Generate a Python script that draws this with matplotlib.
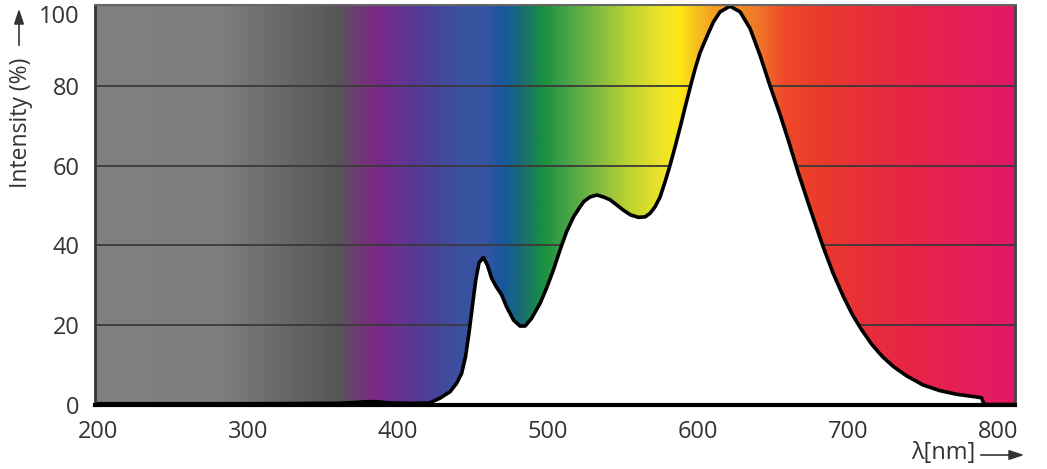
import numpy as np
import matplotlib
matplotlib.use("Agg")
import matplotlib.pyplot as plt
from matplotlib.colors import to_rgb
from matplotlib.patches import FancyArrowPatch
import matplotlib.transforms as mtransforms

plt.rcParams['font.family'] = ['Open Sans', 'DejaVu Sans']

# ---- data ----
wavelength = [198, 300, 360, 372, 378, 386, 394, 410, 421, 428, 434.7, 439, 442.4,
              445, 447.3, 449.5, 451.8, 454, 456.9, 459.6, 462.4, 465.8, 469.1,
              472.4, 477, 481.3, 484.7, 489, 494.7, 499, 503.5, 508, 512.4, 517,
              521.3, 524, 528, 532.5, 537, 541.3, 545.8, 550.2, 555, 560.2, 564.7,
              568, 571.3, 574.7, 578, 581.3, 584.7, 588, 591.3, 595, 598, 601.3,
              605.8, 610.2, 614.7, 621.3, 628, 634.7, 641.3, 648, 654.7, 661.3,
              667, 674.7, 683, 690, 697, 703, 709, 716, 723, 730, 739, 750, 761, 772,
              783.5, 789, 790.7, 811.3]
intensity = [0.2, 0.2, 0.3, 0.5, 0.7, 0.7, 0.4, 0.3, 0.4, 1.6, 3.2, 5.3, 7.8,
             12.0, 17.9, 24.5, 31.2, 35.6, 36.9, 35.0, 31.7, 29.4, 27.5,
             24.5, 21.2, 19.7, 19.7, 21.6, 25.4, 29.2, 33.7, 38.8, 43.4, 47.1,
             49.6, 51.0, 52.1, 52.6, 52.1, 51.4, 50.1, 48.8, 47.6, 47.0, 47.1,
             48.0, 49.6, 52.1, 55.9, 60.0, 64.7, 69.5, 74.5, 80.0, 84.2, 88.3,
             92.3, 96.0, 98.6, 100.0, 98.6, 94.4, 87.7, 80.0, 72.8, 65.0,
             58.0, 49.2, 40.0, 33.0, 27.0, 22.5, 18.8, 15.0, 12.0, 9.6, 7.2, 4.9, 3.5, 2.6,
             2.0, 1.7, 0.0, 0.0]
x_ticks = [200, 300, 400, 500, 600, 700, 800]
y_ticks = [0, 20, 40, 60, 80, 100]
x_label = "λ[nm]"
y_label = "Intensity (%)"

# ---- style: background spectrum gradient stops (nm, colour) ----
grad_nm = [198, 279, 321, 360, 372, 384, 399, 413, 428, 443, 459, 470, 481, 497,
           510, 533, 555, 577, 588, 599, 610, 639, 657, 683, 717, 750, 783, 811.3]
grad_col = ['#808080', '#7e7e7e', '#6a6a6a', '#565656', '#6c3c72', '#7c2a84',
            '#6a3090', '#553a96', '#44479a', '#3a52a0', '#3454a0', '#1858a0',
            '#1a6a78', '#1a9040', '#40a048', '#80bc40', '#c0d430', '#f0e428',
            '#fce814', '#f8c020', '#f5a020', '#f07a28', '#ee4a28', '#ea3a2c',
            '#e82c3c', '#e62448', '#e41e5c', '#e21868']

XMIN, XMAX = 198, 811.3
YMIN, YMAX = 0, 100.3

fig = plt.figure(figsize=(10.47, 4.69), dpi=100)
ax = fig.add_axes([95/1047, 1-404.5/469, (1015-95)/1047, (404.5-5)/469])

xs = np.linspace(XMIN, XMAX, 1200)
cols = np.array([to_rgb(c) for c in grad_col])
img = np.stack([np.interp(xs, grad_nm, cols[:, k]) for k in range(3)], axis=-1)[None, :, :]
ax.imshow(img, extent=(XMIN, XMAX, YMIN, YMAX), aspect='auto', interpolation='bilinear', zorder=0)

for yv in y_ticks[1:-1]:
    ax.axhline(yv, color='#3a3a3a', lw=1.3, zorder=1)

ax.fill_between(wavelength, 0, intensity, color='white', zorder=2, lw=0)
ax.plot(wavelength, intensity, color='black', lw=2.6, zorder=3,
        solid_joinstyle='round', solid_capstyle='round', antialiased=True)

ax.set_xlim(XMIN, XMAX)
ax.set_ylim(YMIN, YMAX)
ax.set_xticks(x_ticks)
ax.set_yticks(y_ticks)
ax.tick_params(length=0, labelsize=17, colors='#333333')
ax.tick_params(axis='x', pad=11)
ax.tick_params(axis='y', pad=11)

# shift top label "100" slightly down as in reference
for lab in ax.get_yticklabels():
    if lab.get_text() == '100':
        lab.set_transform(lab.get_transform() + mtransforms.ScaledTranslation(0, -8/100, fig.dpi_scale_trans))

ax.spines['bottom'].set_color('black')
ax.spines['bottom'].set_linewidth(3)
ax.spines['left'].set_color('#333333')
ax.spines['left'].set_linewidth(2)
ax.spines['right'].set_color('#444444')
ax.spines['right'].set_linewidth(2)
ax.spines['top'].set_color('#666666')
ax.spines['top'].set_linewidth(1.5)
for s in ax.spines.values():
    s.set_zorder(5)

# y label with arrow
fig.text(21/1047, 1-123/469, y_label, rotation=90, ha='center', va='center',
         fontsize=16.5, color='#333333')
fig.add_artist(FancyArrowPatch(
    (19/1047, 1-48/469), (19/1047, 1-6/469), transform=fig.transFigure,
    arrowstyle='-|>,head_length=9,head_width=3', color='#333333', lw=1.2, mutation_scale=1))

# x label with arrow
fig.text(943/1047, 1-453/469, x_label, ha='center', va='center',
         fontsize=17, color='#333333')
fig.add_artist(FancyArrowPatch(
    (978/1047, 1-455/469), (1027/1047, 1-455/469), transform=fig.transFigure,
    arrowstyle='-|>,head_length=9,head_width=3', color='#333333', lw=1.2, mutation_scale=1))

fig.savefig('out.png', dpi=100)
